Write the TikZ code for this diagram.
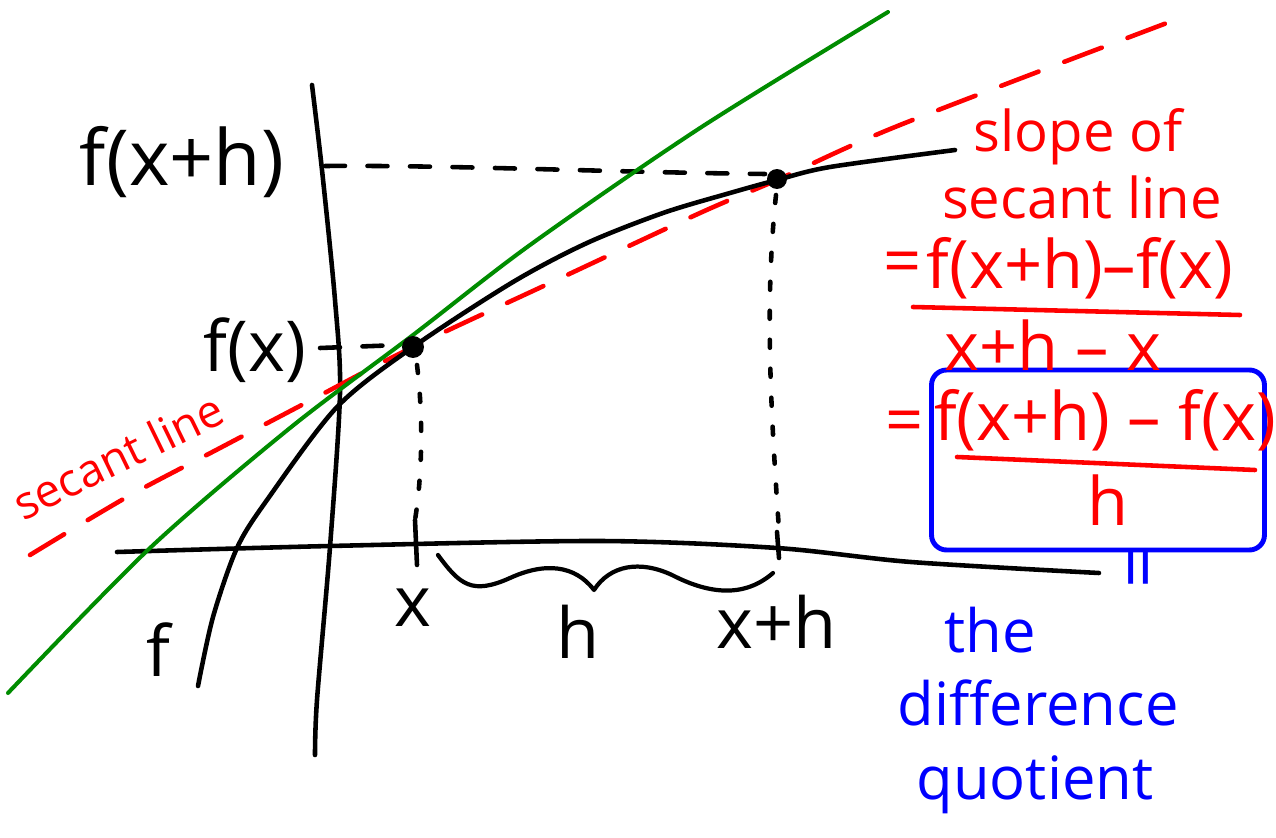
\documentclass[tikz,border=0pt]{standalone}
\usepackage{fontspec}
\setmainfont{Open Sans}
\definecolor{penred}{RGB}{255,0,0}
\definecolor{pengreen}{RGB}{0,140,0}
\definecolor{penblue}{RGB}{0,0,255}
\begin{document}
\begin{tikzpicture}[x=0.02cm,y=-0.02cm,
  ink/.style={line width=2.6pt,line cap=round,line join=round},
  axisline/.style={ink,black},
  fcurve/.style={ink,black},
  tangentline/.style={line width=2.3pt,line cap=round,line join=round,pengreen},
  secantline/.style={ink,penred,dash pattern=on 0.8cm off 0.55cm},
  guide/.style={ink,black,dash pattern=on 0.4cm off 0.45cm},
  dotguide/.style={ink,black,dash pattern=on 0.16cm off 0.42cm},
  ptdot/.style={circle,fill=black,inner sep=0pt,minimum size=0.44cm},
  blk/.style={inner sep=0pt,black,font=\fontsize{40}{44}\selectfont},
  rd/.style={inner sep=0pt,penred,font=\fontsize{32}{36}\selectfont},
  rdbig/.style={inner sep=0pt,penred,font=\fontsize{38}{42}\selectfont},
  bl/.style={inner sep=0pt,penblue,font=\fontsize{34}{38}\selectfont},
  redbar/.style={ink,penred},
  quotbox/.style={draw=penblue,line width=2.8pt,rounded corners=0.3cm,minimum width=6.66cm,minimum height=3.6cm,inner sep=0pt},
]
\useasboundingbox (0,0) rectangle (1276,838);

% key coordinates
\coordinate (P) at (413,347);
\coordinate (Q) at (777,179);
\coordinate (fxhstart) at (325,166);
\coordinate (fxhend) at (765,174);
\coordinate (fxstart) at (320,348);
\coordinate (fxend) at (400,345);
\coordinate (xtop) at (417,365);
\coordinate (xbot) at (415,520);
\coordinate (xhtop) at (776,195);
\coordinate (xhbot) at (779,530);
\coordinate (braceL) at (438,555);
\coordinate (braceTip) at (594,590);
\coordinate (braceR) at (773,573);

% blue box
\node[quotbox] (box) at (1098,460) {};

% axes
\draw[axisline] plot[smooth] coordinates {(312,85) (322,170) (335,300) (340,393) (330,547) (317,700) (315,755)};
\draw[axisline] plot[smooth] coordinates {(117,552) (330,546) (600,541) (777,548) (911,562) (1099,573)};

% ticks
\draw[axisline] (415,520) -- (417,565);
\draw[axisline] (777,532) -- (779,558);

% guides
\draw[guide] (fxhstart) .. controls (450,165) and (600,172) .. (fxhend);
\draw[guide] (fxstart) -- (fxend);
\draw[dotguide] (xtop) .. controls (425,430) and (420,490) .. (xbot);
\draw[dotguide] (xhtop) .. controls (765,300) and (770,400) .. (xhbot);

% secant (red dashed)
\draw[secantline] plot[smooth] coordinates {(30,555) (127,497) (220,448) (317,397) (413,347) (550,283) (700,213) (777,180) (900,125) (1188,15)};

% tangent (green)
\draw[tangentline] plot[smooth] coordinates {(8,693) (150,548) (290,428) (413,335) (530,245) (700,128) (888,12)};

% function f
\draw[fcurve] plot[smooth] coordinates {(198,686) (213,617) (237,548) (267,500) (337,407) (413,347) (513,282) (587,243) (663,213) (730,193) (777,180) (830,167) (955,150)};

% hand-drawn brace
\draw[ink,line width=2.4pt] (braceL) .. controls (460,585) and (472,595) .. (510,578)
  .. controls (545,562) and (575,565) .. (braceTip)
  .. controls (610,565) and (640,560) .. (672,575)
  .. controls (705,592) and (742,600) .. (braceR);

% points
\node[ptdot] (Pdot) at (P) {};
\node[ptdot,minimum size=0.4cm] (Qdot) at (Q) {};

% black labels
\node[blk,font=\fontsize{44}{48}\selectfont] (fxhlbl) at (182,162) {f(x+h)};
\node[blk] (fxlbl) at (255,350) {f(x)};
\node[blk] (xlbl) at (413,608) {x};
\node[blk] (hlbl) at (578,632) {h};
\node[blk] (xhlbl) at (777,622) {x+h};
\node[blk] (flbl) at (158,650) {f};

% red labels
\node[rd,rotate=26,font=\fontsize{26}{30}\selectfont] (seclbl) at (118,456) {secant line};
\node[rd] (slopelbl) at (1078,137) {slope of};
\node[rd] (seclinelbl) at (1082,197) {secant line};
\node[rdbig] (eqone) at (903,268) {=};
\node[rdbig] (numone) at (1080,268) {f(x+h)–f(x)};
\draw[redbar] (913,307) -- (1240,315);
\node[rdbig] (denone) at (1053,345) {x+h – x};
\node[rdbig] (eqtwo) at (905,427) {=};
\node[rdbig] (numtwo) at (1105,420) {f(x+h) – f(x)};
\draw[redbar] (957,457) -- (1255,470);
\node[rdbig] (dentwo) at (1108,500) {h};

% blue labels
\node[bl,rotate=90,font=\fontsize{42}{46}\selectfont] (eqthree) at (1147,567) {=};
\node[bl] (thelbl) at (990,630) {the};
\node[bl] (difflbl) at (1038,703) {difference};
\node[bl] (quotlbl) at (1035,785) {quotient};
\end{tikzpicture}
\end{document}
